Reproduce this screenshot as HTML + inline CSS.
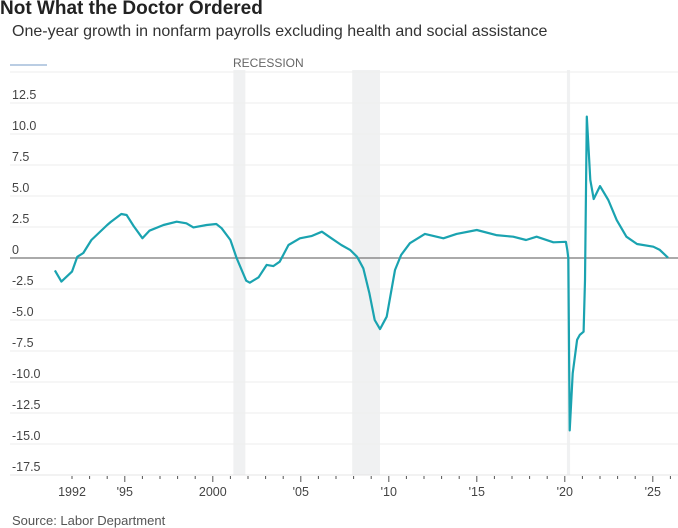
<!DOCTYPE html>
<html><head><meta charset="utf-8"><style>
body{margin:0;background:#fff;width:678px;height:528px;overflow:hidden;font-family:"Liberation Sans",sans-serif}
</style></head><body>
<svg id="c" width="678" height="528" style="position:absolute;left:0;top:0">
<text x="0" y="14" font-size="19" font-weight="bold" fill="#222">Not What the Doctor Ordered</text>
<text x="12" y="36" font-size="16" fill="#333">One-year growth in nonfarm payrolls excluding health and social assistance</text>
<line x1="10" y1="65" x2="47" y2="65" stroke="#9db8d8" stroke-width="2" opacity="0.7"/>
<text x="233" y="67" font-size="12" fill="#666">RECESSION</text>
<text x="12" y="525" font-size="13" fill="#555">Source: Labor Department</text>
<g id="g"></g>
</svg>
<script>
const yearsData=[1991.03,1991.4,1992.0,1992.3,1992.64,1993.1,1994.0,1994.2,1994.8,1995.1,1995.5,1996.0,1996.4,1997.2,1997.95,1998.5,1998.9,1999.65,2000.2,2000.5,2001.0,2001.35,2001.9,2002.1,2002.6,2003.06,2003.44,2003.8,2004.3,2004.95,2005.6,2006.2,2006.66,2007.3,2007.8,2008.2,2008.55,2008.9,2009.2,2009.5,2009.88,2010.35,2010.7,2011.2,2012.05,2013.1,2013.85,2015.0,2016.1,2017.07,2017.8,2018.4,2019.35,2020.06,2020.14,2020.2,2020.28,2020.45,2020.7,2020.85,2021.07,2021.15,2021.25,2021.45,2021.64,2022.0,2022.47,2022.95,2023.5,2024.1,2025.03,2025.4,2025.87];
const growthValues=[-1.0,-1.9,-1.1,0.1,0.4,1.45,2.66,2.9,3.55,3.47,2.58,1.6,2.2,2.66,2.93,2.8,2.47,2.66,2.74,2.4,1.45,0,-1.83,-1.99,-1.56,-0.56,-0.65,-0.3,1.05,1.59,1.77,2.12,1.67,1.05,0.65,0.1,-0.83,-2.85,-5.0,-5.73,-4.73,-0.97,0.24,1.19,1.94,1.59,1.94,2.26,1.85,1.72,1.45,1.72,1.27,1.31,0.65,0,-13.9,-9.3,-6.6,-6.2,-5.94,-1.8,11.4,6.3,4.76,5.8,4.68,3.06,1.72,1.13,0.91,0.65,0.02];
const yTicks=[15,12.5,10,7.5,5,2.5,0,-2.5,-5,-7.5,-10,-12.5,-15,-17.5];
const yTickLabels=["","12.5","10.0","7.5","5.0","2.5","0","-2.5","-5.0","-7.5","-10.0","-12.5","-15.0","-17.5"];
const xTickYears=[1995,2000,2005,2010,2015,2020,2025];
const xTickLabels=["'95","2000","'05","'10","'15","'20","'25"];
const recessionStarts=[2001.17,2007.92,2020.12];
const recessionEnds=[2001.85,2009.5,2020.3];
const X=y=>124.8+(y-1995)*17.6;
const Y=v=>258-v*12.4;
const NS="http://www.w3.org/2000/svg";
const g=document.getElementById('g');
function mk(t,a){const e=document.createElementNS(NS,t);for(const k in a)e.setAttribute(k,a[k]);g.appendChild(e);return e;}
recessionStarts.forEach((s,i)=>{
 const r=mk('rect',{x:X(s),y:70,width:X(recessionEnds[i])-X(s),height:Y(-17.5)-70,fill:'#f0f1f2'});
 
 
});
yTicks.forEach((v,i)=>{
 if(v!==0&&v!==-17.5){const l=mk('line',{x1:10,x2:678,y1:Y(v),y2:Y(v),stroke:'#eeeeee','stroke-width':1});
 
 }
 if(yTickLabels[i]){const t=mk('text',{x:12,y:Y(v)-4,'font-size':12.5,fill:'#444','font-stretch':'condensed'});t.textContent=yTickLabels[i];
 
 }
});
const ax=mk('line',{x1:10,x2:678,y1:Y(-17.5),y2:Y(-17.5),stroke:'#e4e4e4'});


for(let yr=1992;yr<=2026;yr++){
 const maj=xTickYears.includes(yr);
 const t=mk('line',{x1:X(yr),x2:X(yr),y1:Y(-17.5)+1,y2:Y(-17.5)+(maj?7:4),stroke:'#555'});
 
 
}
const lb=mk('text',{x:X(1992),y:496,'font-size':12.5,fill:'#444','text-anchor':'middle'});lb.textContent='1992';


xTickYears.forEach((yr,i)=>{const t=mk('text',{x:X(yr),y:496,'font-size':12.5,fill:'#444','text-anchor':'middle'});t.textContent=xTickLabels[i];
 
 });
const z=mk('line',{x1:10,x2:678,y1:Y(0),y2:Y(0),stroke:'#777','stroke-width':1.3});


const p=mk('path',{d:yearsData.map((yr,i)=>(i?'L':'M')+X(yr).toFixed(1)+','+Y(growthValues[i]).toFixed(1)).join(''),fill:'none',stroke:'#1aa3b0','stroke-width':2.2,'stroke-linejoin':'round'});


</script>
</body></html>
